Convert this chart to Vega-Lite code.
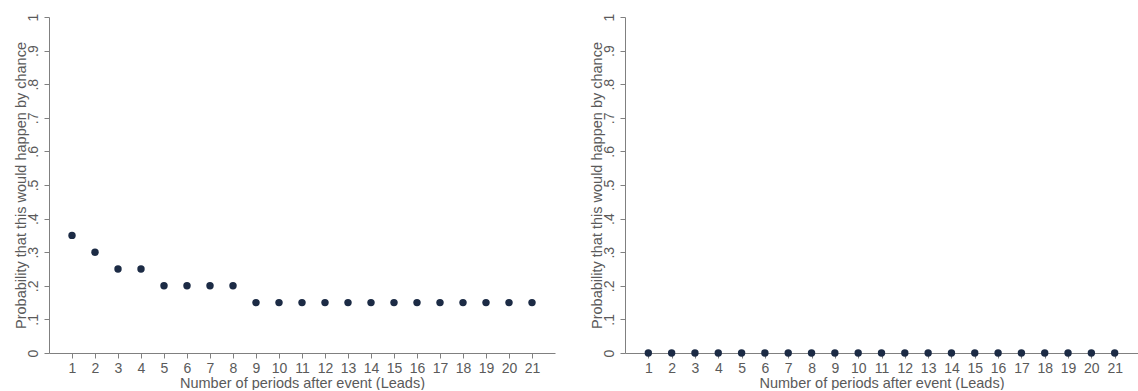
{
  "$schema": "https://vega.github.io/schema/vega-lite/v6.json",
  "padding": {"left": 13, "top": 13, "right": 0, "bottom": 0},
  "autosize": {"type": "pad"},
  "background": "white",
  "spacing": 34,
  "config": {
    "view": {"stroke": null},
    "font": "Liberation Sans",
    "axis": {
      "grid": false,
      "domainColor": "#808080",
      "tickColor": "#808080",
      "tickSize": 5,
      "labelColor": "#5a5a5a",
      "titleColor": "#5a5a5a",
      "labelFont": "Liberation Sans",
      "titleFont": "Liberation Sans",
      "labelFontSize": 14,
      "titleFontSize": 14.5,
      "titleFontWeight": "normal"
    }
  },
  "datasets": {
    "left": [
      {"period": 1, "prob": 0.35}, {"period": 2, "prob": 0.30}, {"period": 3, "prob": 0.25},
      {"period": 4, "prob": 0.25}, {"period": 5, "prob": 0.20}, {"period": 6, "prob": 0.20},
      {"period": 7, "prob": 0.20}, {"period": 8, "prob": 0.20}, {"period": 9, "prob": 0.15},
      {"period": 10, "prob": 0.15}, {"period": 11, "prob": 0.15}, {"period": 12, "prob": 0.15},
      {"period": 13, "prob": 0.15}, {"period": 14, "prob": 0.15}, {"period": 15, "prob": 0.15},
      {"period": 16, "prob": 0.15}, {"period": 17, "prob": 0.15}, {"period": 18, "prob": 0.15},
      {"period": 19, "prob": 0.15}, {"period": 20, "prob": 0.15}, {"period": 21, "prob": 0.15}
    ],
    "right": [
      {"period": 1, "prob": 0}, {"period": 2, "prob": 0}, {"period": 3, "prob": 0},
      {"period": 4, "prob": 0}, {"period": 5, "prob": 0}, {"period": 6, "prob": 0},
      {"period": 7, "prob": 0}, {"period": 8, "prob": 0}, {"period": 9, "prob": 0},
      {"period": 10, "prob": 0}, {"period": 11, "prob": 0}, {"period": 12, "prob": 0},
      {"period": 13, "prob": 0}, {"period": 14, "prob": 0}, {"period": 15, "prob": 0},
      {"period": 16, "prob": 0}, {"period": 17, "prob": 0}, {"period": 18, "prob": 0},
      {"period": 19, "prob": 0}, {"period": 20, "prob": 0}, {"period": 21, "prob": 0}
    ]
  },
  "hconcat": [
    {
      "width": 506,
      "height": 336,
      "data": {"name": "left"},
      "mark": {"type": "point", "filled": true, "size": 55, "color": "#1c2b45", "opacity": 1},
      "encoding": {
        "x": {
          "field": "period", "type": "quantitative",
          "scale": {"domain": [0, 22], "nice": false, "zero": false},
          "axis": {"values": [1,2,3,4,5,6,7,8,9,10,11,12,13,14,15,16,17,18,19,20,21], "title": "Number of periods after event (Leads)", "labelPadding": 3, "titlePadding": 1, "labelFlush": false}
        },
        "y": {
          "field": "prob", "type": "quantitative",
          "scale": {"domain": [0, 1], "nice": false},
          "axis": {"values": [0,0.1,0.2,0.3,0.4,0.5,0.6,0.7,0.8,0.9,1], "format": ".1~f", "labelExpr": "datum.value == 0 ? '0' : datum.value == 1 ? '1' : replace(datum.label, '0.', '.')", "labelAngle": -90, "labelAlign": "center", "labelBaseline": "middle", "labelPadding": 11, "title": "Probability that this would happen by chance", "titlePadding": -2, "labelFlush": false}
        }
      }
    },
    {
      "width": 513,
      "height": 336,
      "data": {"name": "right"},
      "mark": {"type": "point", "filled": true, "size": 55, "color": "#1c2b45", "opacity": 1, "clip": false},
      "encoding": {
        "x": {
          "field": "period", "type": "quantitative",
          "scale": {"domain": [0, 22], "nice": false, "zero": false},
          "axis": {"values": [1,2,3,4,5,6,7,8,9,10,11,12,13,14,15,16,17,18,19,20,21], "title": "Number of periods after event (Leads)", "labelPadding": 3, "titlePadding": 1, "labelFlush": false}
        },
        "y": {
          "field": "prob", "type": "quantitative",
          "scale": {"domain": [0, 1], "nice": false},
          "axis": {"values": [0,0.1,0.2,0.3,0.4,0.5,0.6,0.7,0.8,0.9,1], "format": ".1~f", "labelExpr": "datum.value == 0 ? '0' : datum.value == 1 ? '1' : replace(datum.label, '0.', '.')", "labelAngle": -90, "labelAlign": "center", "labelBaseline": "middle", "labelPadding": 11, "title": "Probability that this would happen by chance", "titlePadding": -2, "labelFlush": false}
        }
      }
    }
  ]
}
